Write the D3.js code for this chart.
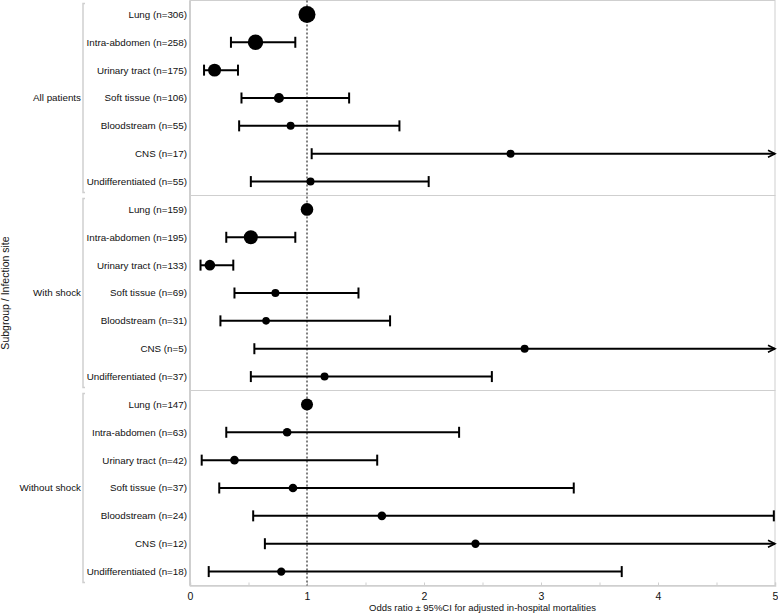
<!DOCTYPE html>
<html>
<head>
<meta charset="utf-8">
<script src="https://cdn.jsdelivr.net/npm/d3@7"></script>
<style>
  html, body { margin: 0; padding: 0; background: #fff; }
  svg { display: block; font-family: "Liberation Sans", Arial, Helvetica, sans-serif; }
</style>
</head>
<body>
<svg id="chart" width="778" height="615"></svg>
<script>
// ---------- DATA ----------
const groups = ["All patients", "With shock", "Without shock"];
const sites = ["Lung", "Intra-abdomen", "Urinary tract", "Soft tissue", "Bloodstream", "CNS", "Undifferentiated"];
const counts = [
  [306, 258, 175, 106, 55, 17, 55],
  [159, 195, 133, 69, 31, 5, 37],
  [147, 63, 42, 37, 24, 12, 18]
];
// odds ratios
const oddsRatio = [
  [1.00, 0.56, 0.21, 0.76, 0.86, 2.74, 1.03],
  [1.00, 0.52, 0.17, 0.73, 0.65, 2.86, 1.15],
  [1.00, 0.83, 0.38, 0.88, 1.64, 2.44, 0.78]
];
// 95% CI lower bounds (null = reference category)
const ciLower = [
  [null, 0.35, 0.12, 0.44, 0.42, 1.04, 0.52],
  [null, 0.31, 0.09, 0.38, 0.26, 0.55, 0.52],
  [null, 0.31, 0.10, 0.25, 0.54, 0.64, 0.16]
];
// 95% CI upper bounds (values above 5 run off the scale, drawn as arrows)
const ciUpper = [
  [null, 0.90, 0.41, 1.36, 1.79, 6.0, 2.04],
  [null, 0.90, 0.37, 1.44, 1.71, 6.0, 2.58],
  [null, 2.30, 1.60, 3.28, 4.99, 6.0, 3.69]
];
// relative weight of each estimate (marker area)
const weights = [
  [100, 82, 58, 35, 22, 22, 22],
  [55, 68, 39, 22, 20, 22, 22],
  [50, 26, 26, 26, 26, 24, 24]
];
const xTicks = [0, 0.5, 1, 1.5, 2, 2.5, 3, 3.5, 4, 4.5, 5];
const xTitle = "Odds ratio \u00b1 95%CI for adjusted in-hospital mortalities";
const yTitle = "Subgroup / Infection site";

// ---------- LAYOUT ----------
const svg = d3.select("#chart");
const plotL = 190, plotR = 775, plotT = 0.5, plotB = 585.5;
const x = d3.scaleLinear().domain([0, 5]).range([plotL, plotR]);
const yGroup = d3.scaleBand().domain(groups).range([plotT, plotB]);
const ySite = d3.scaleBand().domain(sites).range([0, yGroup.bandwidth()]);
const r = d3.scaleSqrt().domain([0, 100]).range([0, 8.5]);
const grey = "#cfcfcf";

const rows = [];
groups.forEach((g, gi) => {
  sites.forEach((s, si) => {
    rows.push({
      group: g, site: s, n: counts[gi][si], or: oddsRatio[gi][si],
      lo: ciLower[gi][si], hi: ciUpper[gi][si], w: weights[gi][si],
      y: yGroup(g) + ySite(s) + ySite.bandwidth() / 2
    });
  });
});

// panel frames
groups.forEach(g => {
  svg.append("rect")
    .attr("x", plotL).attr("y", yGroup(g))
    .attr("width", plotR - plotL).attr("height", yGroup.bandwidth())
    .attr("fill", "none").attr("stroke", grey).attr("stroke-width", 1);
});
svg.append("line").attr("x1", plotL).attr("x2", plotL).attr("y1", plotT).attr("y2", plotB)
  .attr("stroke", grey).attr("stroke-width", 2);

// x axis
const xAxis = d3.axisBottom(x).tickValues(xTicks)
  .tickSize(-3).tickPadding(7)
  .tickFormat(d => Number.isInteger(d) ? d : "");
const ax = svg.append("g").attr("transform", `translate(0,${plotB})`).call(xAxis);
ax.select(".domain").attr("stroke", grey).attr("stroke-width", 1.5);
ax.selectAll(".tick line").attr("stroke", grey);
ax.selectAll(".tick text").attr("font-size", 10.5).attr("fill", "#111")
  .attr("font-family", "'Liberation Sans', Arial, sans-serif");

svg.append("text").attr("x", (plotL + plotR) / 2).attr("y", 611)
  .attr("text-anchor", "middle").attr("font-size", 9.5).attr("fill", "#111").text(xTitle);

svg.append("text").attr("transform", `translate(9,${(plotT + plotB) / 2}) rotate(-90)`)
  .attr("text-anchor", "middle").attr("font-size", 10.5).attr("fill", "#111").text(yTitle);

// group brackets + labels
groups.forEach(g => {
  const y0 = yGroup(g) + 3, y1 = yGroup(g) + yGroup.bandwidth() - 3;
  svg.append("path")
    .attr("d", `M85,${y0}H83V${y1}H85`)
    .attr("fill", "none").attr("stroke", grey).attr("stroke-width", 1.5);
  svg.append("text").attr("x", 81).attr("y", yGroup(g) + yGroup.bandwidth() / 2)
    .attr("dy", "0.35em").attr("text-anchor", "end").attr("font-size", 9.8).attr("fill", "#111").text(g);
});

// row labels
svg.append("g").selectAll("text").data(rows).join("text")
  .attr("x", 187).attr("y", d => d.y).attr("dy", "0.35em")
  .attr("text-anchor", "end").attr("font-size", 9.8).attr("fill", "#111")
  .text(d => `${d.site} (n=${d.n})`);

// reference line
svg.append("line").attr("x1", x(1)).attr("x2", x(1)).attr("y1", plotT).attr("y2", plotB)
  .attr("stroke", "#000").attr("stroke-width", 1).attr("stroke-dasharray", "2,2");

// error bars
const ci = rows.filter(d => d.lo !== null);
const bars = svg.append("g").selectAll("g").data(ci).join("g");
bars.append("line")
  .attr("x1", d => x(d.lo)).attr("x2", d => x(Math.min(d.hi, 5)))
  .attr("y1", d => d.y).attr("y2", d => d.y)
  .attr("stroke", "#000").attr("stroke-width", 2);
bars.append("line")
  .attr("x1", d => x(d.lo)).attr("x2", d => x(d.lo))
  .attr("y1", d => d.y - 5.5).attr("y2", d => d.y + 5.5)
  .attr("stroke", "#000").attr("stroke-width", 2);
bars.filter(d => d.hi <= 5).append("line")
  .attr("x1", d => x(d.hi)).attr("x2", d => x(d.hi))
  .attr("y1", d => d.y - 5.5).attr("y2", d => d.y + 5.5)
  .attr("stroke", "#000").attr("stroke-width", 2);
bars.filter(d => d.hi > 5).append("path")
  .attr("d", d => `M${x(5) - 7},${d.y - 3.5}L${x(5)},${d.y}L${x(5) - 7},${d.y + 3.5}`)
  .attr("fill", "none").attr("stroke", "#000").attr("stroke-width", 1.6);

// points
svg.append("g").selectAll("circle").data(rows).join("circle")
  .attr("cx", d => x(d.or)).attr("cy", d => d.y).attr("r", d => r(d.w))
  .attr("fill", "#000");
</script>
</body>
</html>
